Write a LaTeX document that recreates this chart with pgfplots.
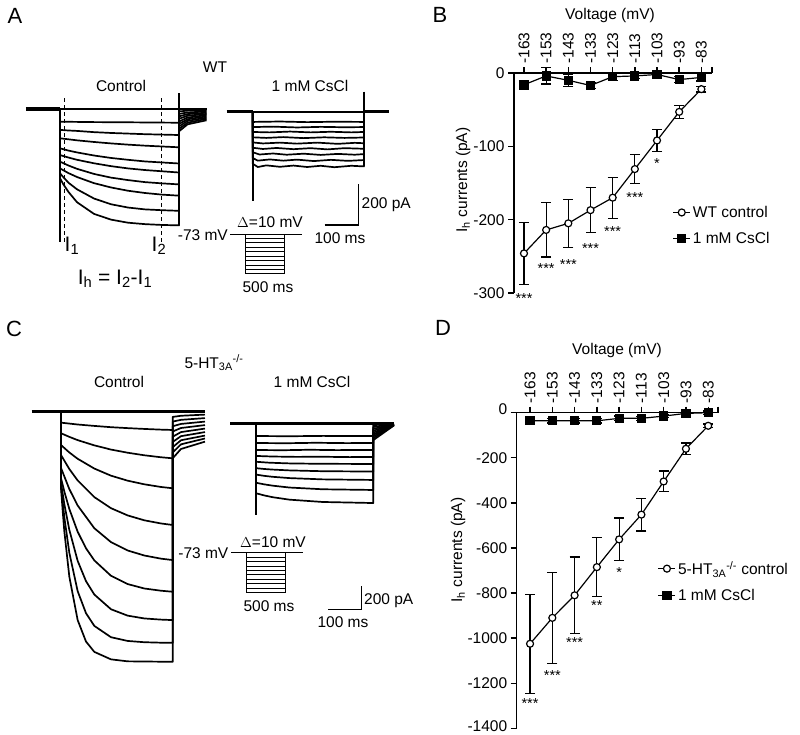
\documentclass[border=0pt]{standalone}
\usepackage{fontspec}
\setmainfont{Liberation Sans}
\usepackage{pgfplots}
\pgfplotsset{compat=1.18}
\newcommand{\fs}{\fontsize{15.5}{18}\selectfont}
\newcommand{\fl}{\fontsize{22}{24}\selectfont}
\newcommand{\fst}{\fontsize{14.5}{15}\selectfont}
\newcommand{\fI}{\fontsize{21}{23}\selectfont}
\pgfplotsset{
  trace/.style={black, line width=1.7pt, mark=none, line join=round},
  base/.style={black, line width=3.5pt, mark=none},
  tr/.style={hide axis, clip=false, enlargelimits=false, anchor=south west},
  iv/.style={anchor=south west, scale only axis, enlargelimits=false, clip=false,
    axis x line=top, axis y line=left, axis line style={-, line width=1.4pt},
    tick align=outside, major tick length=6pt, tick style={line width=1.4pt, black},
    xtick={-163,-153,-143,-133,-123,-113,-103,-93,-83},
    xticklabels={-163,-153,-143,-133,-123,-113,-103,-93,-83},
    xticklabel style={rotate=90, anchor=west, font=\fs},
    yticklabel style={font=\fs},
    error bars/error bar style={line width=1.2pt, black},
    error bars/error mark options={rotate=90, mark size=5pt, line width=1.2pt, black},
    legend cell align=left},
  ctl/.style={black, line width=1.2pt, mark=*, mark size=3.5pt, mark options={fill=white, draw=black, line width=1.2pt}},
  cs/.style={black, line width=1.2pt, mark=square*, mark size=4pt, mark options={fill=black}},
}
\begin{document}
\begin{tikzpicture}
\useasboundingbox (0pt,0pt) rectangle (800pt,-734pt);

% ---------------- Panel A : WT control traces (ms, pA) ----------------
\begin{axis}[tr, at={(25.99pt,-272.9pt)}, x=0.3401pt, y=0.2049pt, xmin=-100, xmax=450, ymin=-800, ymax=200]
\addplot[base] coordinates {(-100,0) (0,0)};
\addplot[trace] coordinates {(0,0) (431,0)};
\addplot[trace] coordinates {(0,0)(0,-62)(100,-64)(200,-65)(350,-67)(350,-12)(375,-8)(431,-6)};
\addplot[trace] coordinates {(0,0)(0,-102)(25,-105)(50,-107)(100,-113)(150,-117)(200,-120)(250,-123)(300,-125)(350,-127)(350,-24)(375,-17)(431,-12)};
\addplot[trace] coordinates {(0,0)(0,-143)(25,-148)(50,-153)(100,-161)(150,-168)(200,-174)(250,-179)(300,-183)(350,-187)(350,-36)(375,-25)(431,-18)};
\addplot[trace] coordinates {(0,0)(0,-192)(25,-203)(50,-212)(100,-227)(150,-239)(200,-248)(250,-256)(300,-261)(350,-266)(350,-48)(375,-33)(431,-24)};
\addplot[trace] coordinates {(0,0)(0,-225)(25,-237)(50,-248)(100,-265)(150,-279)(200,-290)(250,-298)(300,-304)(350,-310)(350,-61)(375,-42)(431,-30)};
\addplot[trace] coordinates {(0,0)(0,-257)(25,-276)(50,-292)(100,-317)(150,-335)(200,-347)(250,-357)(300,-363)(350,-368)(350,-73)(375,-50)(431,-36)};
\addplot[trace] coordinates {(0,0)(0,-290)(25,-313)(50,-332)(100,-362)(150,-383)(200,-399)(250,-410)(300,-418)(350,-423)(350,-85)(375,-58)(431,-42)};
\addplot[trace] coordinates {(0,0)(0,-314)(10,-333)(25,-360)(50,-392)(100,-437)(150,-465)(200,-481)(250,-490)(300,-494)(350,-497)(350,-97)(375,-67)(431,-48)};
\addplot[trace] coordinates {(0,0)(0,-338)(10,-368)(25,-405)(50,-455)(100,-512)(150,-540)(200,-555)(250,-562)(300,-566)(350,-568)(350,-109)(375,-75)(431,-55)};
% capacitive transients
\addplot[trace] coordinates {(0,0)(0,-650)};
\addplot[trace] coordinates {(350,76)(350,-568)};
% I1 / I2 cursors
\addplot[black, line width=1.1pt, dash pattern=on 4pt off 3pt] coordinates {(13,52)(13,-648)};
\addplot[black, line width=1.1pt, dash pattern=on 4pt off 3pt] coordinates {(299,52)(299,-648)};
\end{axis}

% ---------------- Panel A : WT CsCl traces ----------------
\begin{axis}[tr, at={(218.7pt,-275.6pt)}, x=0.3401pt, y=0.2049pt, xmin=-100, xmax=450, ymin=-800, ymax=200]
\addplot[base] coordinates {(-77,0)(0,0)};
\addplot[base] coordinates {(327,0)(400,0)};
\addplot[trace] coordinates {(0,0)(327,0)};
\addplot[trace] coordinates {(0,0)(0,-50)(80,-48)(160,-51)(240,-49)(327,-50)(327,0)};
\addplot[trace] coordinates {(0,0)(0,-75)(60,-73)(130,-77)(200,-74)(270,-76)(327,-75)(327,0)};
\addplot[trace] coordinates {(0,0)(0,-99)(50,-101)(110,-97)(170,-101)(230,-98)(290,-101)(327,-99)(327,0)};
\addplot[trace] coordinates {(0,0)(0,-125)(40,-128)(90,-124)(150,-129)(210,-125)(270,-128)(327,-126)(327,0)};
\addplot[trace] coordinates {(0,0)(0,-150)(30,-155)(80,-151)(130,-156)(190,-151)(250,-157)(300,-152)(327,-154)(327,0)};
\addplot[trace] coordinates {(0,0)(0,-176)(30,-182)(70,-177)(120,-183)(170,-178)(220,-184)(270,-178)(327,-181)(327,0)};
\addplot[trace] coordinates {(0,0)(0,-198)(20,-209)(60,-204)(100,-210)(150,-205)(200,-211)(250,-206)(300,-210)(327,-207)(327,0)};
\addplot[trace] coordinates {(0,0)(0,-226)(15,-239)(50,-233)(90,-239)(130,-234)(180,-241)(230,-235)(280,-240)(327,-236)(327,0)};
\addplot[trace] coordinates {(0,0)(0,-254)(15,-270)(40,-262)(80,-269)(120,-263)(160,-270)(200,-264)(240,-271)(290,-264)(327,-267)(327,0)};
\addplot[trace] coordinates {(0,0)(0,-436)};
\addplot[trace] coordinates {(327,98)(327,-267)};
% scale bar 100 ms / 200 pA
\addplot[black, line width=1.2pt] coordinates {(211.6,-553)(311.6,-553)(311.6,-353)};
\end{axis}

% ---------------- Panel A : voltage protocol (ms, mV) ----------------
\begin{axis}[tr, at={(229.4pt,-276.78pt)}, x=0.078pt, y=0.441pt, xmin=-200, xmax=750, ymin=-170, ymax=-60]
\addplot[black, line width=1pt] coordinates {(-192,-73)(731,-73)};
\addplot[black, line width=0.9pt] coordinates {(0,-73)(0,-163)(500,-163)(500,-73)};
\addplot[black, line width=0.75pt] coordinates {(0,-83)(500,-83)};
\addplot[black, line width=0.75pt] coordinates {(0,-93)(500,-93)};
\addplot[black, line width=0.75pt] coordinates {(0,-103)(500,-103)};
\addplot[black, line width=0.75pt] coordinates {(0,-113)(500,-113)};
\addplot[black, line width=0.75pt] coordinates {(0,-123)(500,-123)};
\addplot[black, line width=0.75pt] coordinates {(0,-133)(500,-133)};
\addplot[black, line width=0.75pt] coordinates {(0,-143)(500,-143)};
\addplot[black, line width=0.75pt] coordinates {(0,-153)(500,-153)};
\end{axis}

% ---------------- Panel C : 5-HT3A-/- control traces ----------------
\begin{axis}[tr, at={(27.67pt,-691.4pt)}, x=0.3333pt, y=0.11655pt, xmin=-100, xmax=450, ymin=-2400, ymax=300]
\addplot[base] coordinates {(-88,0)(432,0)};
\addplot[trace] coordinates {(0,0)(0,-94)(25,-102)(50,-110)(100,-122)(150,-133)(200,-141)(250,-148)(300,-154)(335,-157)(335,-45)(360,-35)(432,-25)};
\addplot[trace] coordinates {(0,0)(0,-185)(25,-216)(50,-244)(100,-289)(150,-325)(200,-352)(250,-374)(300,-391)(335,-400)(335,-85)(360,-70)(432,-55)};
\addplot[trace] coordinates {(0,0)(0,-286)(25,-350)(50,-404)(100,-488)(150,-549)(200,-592)(250,-623)(300,-646)(335,-657)(335,-125)(360,-105)(432,-85)};
\addplot[trace] coordinates {(0,0)(0,-372)(25,-492)(50,-590)(100,-733)(150,-828)(200,-890)(250,-932)(300,-959)(335,-972)(335,-170)(360,-140)(432,-115)};
\addplot[trace] coordinates {(0,0)(0,-483)(25,-664)(50,-805)(100,-1000)(150,-1119)(200,-1191)(250,-1234)(300,-1261)(335,-1273)(335,-215)(360,-175)(432,-145)};
\addplot[trace] coordinates {(0,0)(0,-569)(10,-685)(25,-835)(50,-1030)(75,-1172)(100,-1276)(150,-1408)(200,-1479)(250,-1517)(300,-1536)(335,-1545)(335,-260)(360,-210)(432,-175)};
\addplot[trace] coordinates {(0,0)(0,-612)(10,-793)(25,-1014)(50,-1280)(75,-1454)(100,-1569)(150,-1695)(200,-1750)(250,-1774)(300,-1784)(335,-1788)(335,-305)(360,-245)(432,-205)};
\addplot[trace] coordinates {(0,0)(0,-638)(10,-906)(25,-1211)(50,-1540)(75,-1729)(100,-1838)(150,-1935)(200,-1967)(250,-1978)(300,-1982)(335,-1983)(335,-350)(360,-280)(432,-230)};
\addplot[trace] coordinates {(0,0)(0,-656)(5,-850)(10,-1027)(25,-1416)(50,-1788)(75,-1972)(100,-2061)(150,-2125)(200,-2142)(335,-2146)(335,-400)(360,-320)(432,-257)};
\end{axis}

% ---------------- Panel C : 5-HT3A-/- CsCl traces ----------------
\begin{axis}[tr, at={(222.67pt,-656.4pt)}, x=0.3333pt, y=0.11655pt, xmin=-100, xmax=450, ymin=-2000, ymax=300]
\addplot[base] coordinates {(-78,0)(414,0)};
\addplot[trace] coordinates {(0,0)(0,-109)(100,-111)(200,-108)(352,-109)(352,-16)(414,-2)};
\addplot[trace] coordinates {(0,0)(0,-169)(90,-171)(180,-167)(270,-170)(352,-169)(352,-32)(414,-4)};
\addplot[trace] coordinates {(0,0)(0,-229)(80,-231)(160,-227)(240,-230)(352,-229)(352,-48)(414,-6)};
\addplot[trace] coordinates {(0,0)(0,-280)(50,-285)(120,-288)(200,-287)(280,-290)(352,-289)(352,-64)(414,-8)};
\addplot[trace] coordinates {(0,0)(0,-330)(40,-338)(100,-344)(180,-347)(260,-348)(352,-349)(352,-80)(414,-10)};
\addplot[trace] coordinates {(0,0)(0,-385)(25,-392)(50,-397)(100,-404)(200,-411)(352,-414)(352,-96)(414,-12)};
\addplot[trace] coordinates {(0,0)(0,-440)(25,-451)(50,-459)(100,-470)(200,-481)(352,-486)(352,-112)(414,-14)};
\addplot[trace] coordinates {(0,0)(0,-510)(25,-524)(50,-535)(100,-551)(200,-566)(352,-572)(352,-128)(414,-16)};
\addplot[trace] coordinates {(0,0)(0,-600)(25,-619)(50,-634)(100,-655)(200,-675)(352,-684)(352,-144)(414,-18)};
\addplot[trace] coordinates {(0,0)(0,-787)};
% scale bar 100 ms / 200 pA
\addplot[black, line width=1.2pt] coordinates {(217,-1596)(317,-1596)(317,-1396)};
\end{axis}

% ---------------- Panel C : voltage protocol ----------------
\begin{axis}[tr, at={(230.4pt,-595.48pt)}, x=0.078pt, y=0.441pt, xmin=-200, xmax=750, ymin=-170, ymax=-60]
\addplot[black, line width=1pt] coordinates {(-192,-73)(731,-73)};
\addplot[black, line width=0.9pt] coordinates {(0,-73)(0,-163)(500,-163)(500,-73)};
\addplot[black, line width=0.75pt] coordinates {(0,-83)(500,-83)};
\addplot[black, line width=0.75pt] coordinates {(0,-93)(500,-93)};
\addplot[black, line width=0.75pt] coordinates {(0,-103)(500,-103)};
\addplot[black, line width=0.75pt] coordinates {(0,-113)(500,-113)};
\addplot[black, line width=0.75pt] coordinates {(0,-123)(500,-123)};
\addplot[black, line width=0.75pt] coordinates {(0,-133)(500,-133)};
\addplot[black, line width=0.75pt] coordinates {(0,-143)(500,-143)};
\addplot[black, line width=0.75pt] coordinates {(0,-153)(500,-153)};
\end{axis}

% ---------------- Panel B : WT I-V ----------------
\begin{axis}[iv, at={(514pt,-293pt)}, width=198pt, height=220pt,
  xmin=-167.5, xmax=-78.2, ymin=-300, ymax=0,
  extra x ticks={-78.2}, extra x tick labels={},
  ytick={0,-100,-200,-300}, yticklabels={0,-100,-200,-300},
  legend style={draw=none, fill=none, at={(0.80,0.405)}, anchor=north west, font=\fs, row sep=9pt, inner sep=0pt}]
\addplot[ctl] plot[error bars/.cd, y dir=both, y explicit] coordinates {
 (-163,-246) +- (0,42) (-153,-214) +- (0,37) (-143,-205) +- (0,33) (-133,-187) +- (0,31)
 (-123,-170) +- (0,28) (-113,-131) +- (0,20) (-103,-92) +- (0,15) (-93,-53) +- (0,9) (-83,-22) +- (0,4)};
\addplot[cs] plot[error bars/.cd, y dir=both, y explicit] coordinates {
 (-163,-16) +- (0,6) (-153,-4) +- (0,11) (-143,-10) +- (0,8) (-133,-17) +- (0,4)
 (-123,-5) +- (0,5) (-113,-4) +- (0,4) (-103,-2) +- (0,4) (-93,-9) +- (0,4) (-83,-6) +- (0,5)};
\legend{WT control, 1 mM CsCl}
\node[font=\fst] at (axis cs:-163,-307) {***};
\node[font=\fst] at (axis cs:-153,-266) {***};
\node[font=\fst] at (axis cs:-143,-261) {***};
\node[font=\fst] at (axis cs:-133,-239) {***};
\node[font=\fst] at (axis cs:-123,-216) {***};
\node[font=\fst] at (axis cs:-113,-170) {***};
\node[font=\fst] at (axis cs:-103,-124) {*};
\end{axis}

% ---------------- Panel D : 5-HT3A-/- I-V ----------------
\begin{axis}[iv, at={(516.7pt,-728.3pt)}, width=201.3pt, height=315.6pt,
  xmin=-169, xmax=-78.6, ymin=-1400, ymax=0,
  extra x ticks={-78.6}, extra x tick labels={},
  ytick={0,-200,-400,-600,-800,-1000,-1200,-1400},
  yticklabels={\raisebox{8pt}{0},-200,-400,-600,-800,-1000,-1200,\raisebox{4pt}{-1400}},
  legend style={draw=none, fill=none, at={(0.70,0.536)}, anchor=north west, font=\fs, row sep=9pt, inner sep=0pt}]
\addplot[ctl] plot[error bars/.cd, y dir=both, y explicit] coordinates {
 (-163,-1025) +- (0,220) (-153,-910) +- (0,202) (-143,-810) +- (0,170) (-133,-685) +- (0,130)
 (-123,-562) +- (0,95) (-113,-452) +- (0,73) (-103,-305) +- (0,46) (-93,-160) +- (0,26) (-83,-58) +- (0,8)};
\addplot[cs] plot[error bars/.cd, y dir=both, y explicit] coordinates {
 (-163,-36) +- (0,10) (-153,-36) +- (0,10) (-143,-36) +- (0,10) (-133,-36) +- (0,10)
 (-123,-25) +- (0,10) (-113,-25) +- (0,8) (-103,-15) +- (0,8) (-93,-3) +- (0,8) (-83,0) +- (0,8)};
\legend{5-HT\textsubscript{3A}\textsuperscript{-/-} control, 1 mM CsCl}
\node[font=\fst] at (axis cs:-163,-1292) {***};
\node[font=\fst] at (axis cs:-153,-1167) {***};
\node[font=\fst] at (axis cs:-143,-1020) {***};
\node[font=\fst] at (axis cs:-133,-857) {**};
\node[font=\fst] at (axis cs:-123,-710) {*};
\end{axis}

% ---------------- text ----------------
\node[font=\fl] at (15pt,-16pt) {A};
\node[font=\fl] at (440pt,-15pt) {B};
\node[font=\fl] at (14pt,-329pt) {C};
\node[font=\fl] at (443pt,-328pt) {D};
\node[font=\fs] at (215pt,-67pt) {WT};
\node[font=\fs] at (121pt,-86pt) {Control};
\node[font=\fs] at (310pt,-86pt) {1 mM CsCl};
\node[font=\fI] at (72pt,-246pt) {I\textsubscript{1}};
\node[font=\fI] at (159pt,-246pt) {I\textsubscript{2}};
\node[font=\fI] at (115pt,-279pt) {I\textsubscript{h} = I\textsubscript{2}-I\textsubscript{1}};
\node[font=\fs, anchor=east, inner sep=1pt] at (229pt,-235pt) {-73 mV};
\node[font=\fs] at (270pt,-222pt) {$\Delta$=10 mV};
\node[font=\fs] at (268pt,-287pt) {500 ms};
\node[font=\fs, anchor=west, inner sep=0pt] at (361.5pt,-205pt) {200 pA};
\node[font=\fs] at (340pt,-238pt) {100 ms};
\node[font=\fs] at (214pt,-363pt) {5-HT\textsubscript{3A}\textsuperscript{-/-}};
\node[font=\fs] at (119pt,-382pt) {Control};
\node[font=\fs] at (312pt,-382pt) {1 mM CsCl};
\node[font=\fs, anchor=east, inner sep=1pt] at (229.5pt,-553.3pt) {-73 mV};
\node[font=\fs] at (273pt,-541.7pt) {$\Delta$=10 mV};
\node[font=\fs] at (269pt,-605.7pt) {500 ms};
\node[font=\fs, anchor=west, inner sep=0pt] at (364pt,-601pt) {200 pA};
\node[font=\fs] at (343pt,-622pt) {100 ms};
\node[font=\fs] at (610pt,-15pt) {Voltage (mV)};
\node[font=\fs] at (617pt,-350pt) {Voltage (mV)};
\node[font=\fs, rotate=90] at (463pt,-180pt) {I\textsubscript{h} currents (pA)};
\node[font=\fs, rotate=90] at (458pt,-550pt) {I\textsubscript{h} currents (pA)};
\end{tikzpicture}
\end{document}
